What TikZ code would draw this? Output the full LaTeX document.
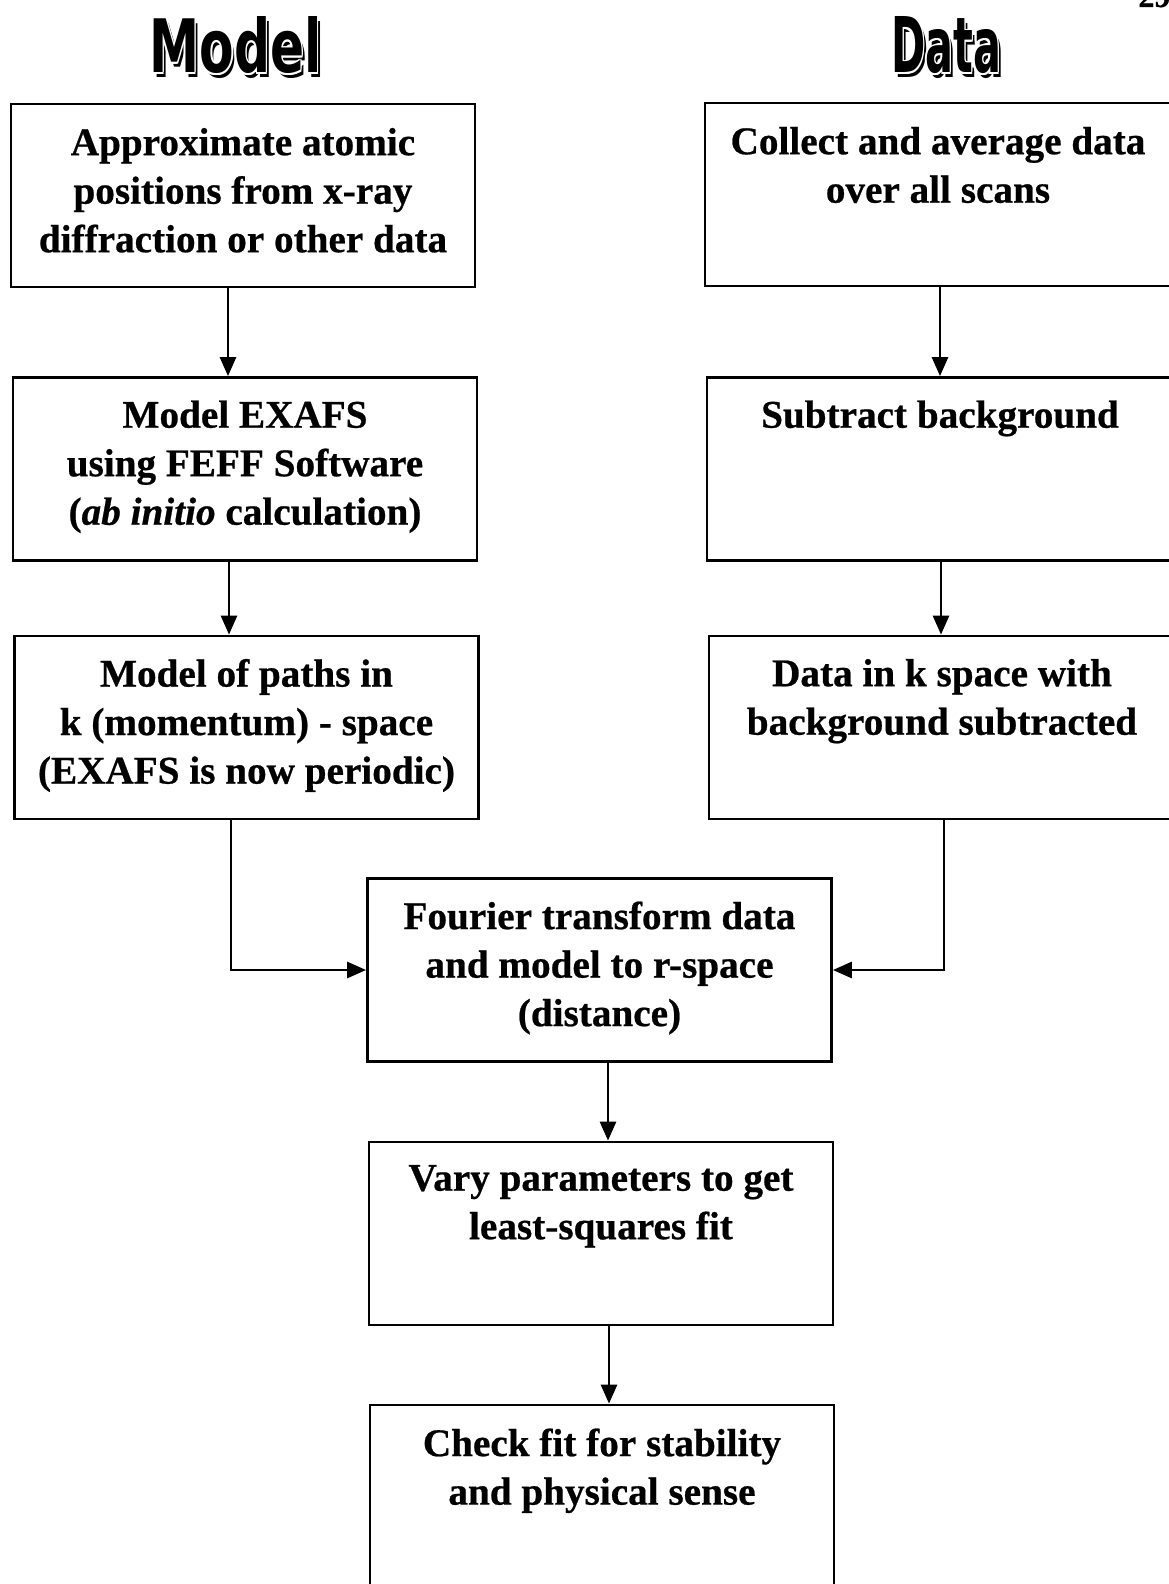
\documentclass[tikz,border=0pt]{standalone}
\usepackage{fontspec}
\setmainfont{Liberation Serif}[BoldFeatures={FakeBold=0.6},BoldItalicFeatures={FakeBold=0.6}]
\newfontfamily\titlefont{DejaVu Sans}
\usetikzlibrary{arrows.meta}
\tikzset{
  box/.style={draw, line width=1.4pt, rectangle, minimum width=232pt, minimum height=91.5pt, inner sep=0pt},
  txt/.style={anchor=north, align=center, inner sep=0pt, font=\fontsize{19.6}{24.25}\selectfont\bfseries},
  arr/.style={line width=1.4pt, -{Triangle[length=9.5pt,width=8pt]}},
  ttl/.style={anchor=base, inner sep=0pt},
}
\newcommand\ttlword[2]{\resizebox{#1}{28pt}{\titlefont\bfseries #2}}
\begin{document}
\begin{tikzpicture}[x=0.5pt,y=-0.5pt]
\useasboundingbox[fill=white] (0,0) rectangle (1168,1584);
% page number (cut at top)
\node[anchor=base west, inner sep=0pt, font=\fontsize{16}{18}\selectfont\bfseries] (pg) at (1138,7) {29};
% titles with shadow and white halo
\node[ttl] (msh) at (238.5,77) {\ttlword{86pt}{Model}};
\foreach \dx/\dy [count=\i] in {1.5/0,-1.5/0,0/1.5,0/-1.5,1.1/1.1,-1.1/1.1,1.1/-1.1,-1.1/-1.1}
  \node[ttl, text=white] (mh\i) at (235.5+\dx,73+\dy) {\ttlword{86pt}{Model}};
\node[ttl] (mtitle) at (235.5,73) {\ttlword{86pt}{Model}};
\node[ttl] (dsh) at (949,77) {\ttlword{55pt}{Data}};
\foreach \dx/\dy [count=\i] in {1.5/0,-1.5/0,0/1.5,0/-1.5,1.1/1.1,-1.1/1.1,1.1/-1.1,-1.1/-1.1}
  \node[ttl, text=white] (dh\i) at (946+\dx,73+\dy) {\ttlword{55pt}{Data}};
\node[ttl] (dtitle) at (946,73) {\ttlword{55pt}{Data}};
% boxes
\node[box] (A1) at (243,195.5) {};
\node[box] (A2) at (245,469) {};
\node[box] (A3) at (246.5,727.5) {};
\node[box, minimum width=233pt] (D1) at (938,194.5) {};
\node[box, minimum width=233pt] (D2) at (940,469) {};
\node[box, minimum width=233pt] (D3) at (942,727.5) {};
\node[box] (F) at (599.5,970) {};
\node[box] (V) at (601,1233.5) {};
\node[box] (C) at (602,1496.5) {};
% texts
\node[txt] (tA1) at ([yshift=-12.5pt]A1.north) {Approximate atomic\\positions from x-ray\\diffraction or other data};
\node[txt] (tA2) at ([yshift=-12pt]A2.north) {Model EXAFS\\using FEFF Software\\(\textit{ab initio} calculation)};
\node[txt] (tA3) at ([yshift=-12pt]A3.north) {Model of paths in\\k (momentum) - space\\(EXAFS is now periodic)};
\node[txt] (tD1) at ([yshift=-12.5pt]D1.north) {Collect and average data\\over all scans};
\node[txt] (tD2) at ([yshift=-12pt]D2.north) {Subtract background};
\node[txt] (tD3) at ([yshift=-12pt]D3.north) {Data in k space with\\background subtracted};
\node[txt] (tF) at ([yshift=-12pt]F.north) {Fourier transform data\\and model to r-space\\(distance)};
\node[txt] (tV) at ([yshift=-12pt]V.north) {Vary parameters to get\\least-squares fit};
\node[txt] (tC) at ([yshift=-12.25pt]C.north) {Check fit for stability\\and physical sense};
% connector x positions
\coordinate (xa12) at (228,0);
\coordinate (xa23) at (229,0);
\coordinate (xd12) at (940,0);
\coordinate (xd23) at (941,0);
\coordinate (xa3) at (231,0);
\coordinate (xd3) at (944,0);
\coordinate (xfv) at (608,0);
\coordinate (xvc) at (609,0);
% connectors
\draw[arr] (A1.south -| xa12) -- (A2.north -| xa12);
\draw[arr] (A2.south -| xa23) -- (A3.north -| xa23);
\draw[arr] (D1.south -| xd12) -- (D2.north -| xd12);
\draw[arr] (D2.south -| xd23) -- (D3.north -| xd23);
\draw[arr] (A3.south -| xa3) |- (F.west);
\draw[arr] (D3.south -| xd3) |- (F.east);
\draw[arr] (F.south -| xfv) -- (V.north -| xfv);
\draw[arr] (V.south -| xvc) -- (C.north -| xvc);
\end{tikzpicture}
\end{document}
